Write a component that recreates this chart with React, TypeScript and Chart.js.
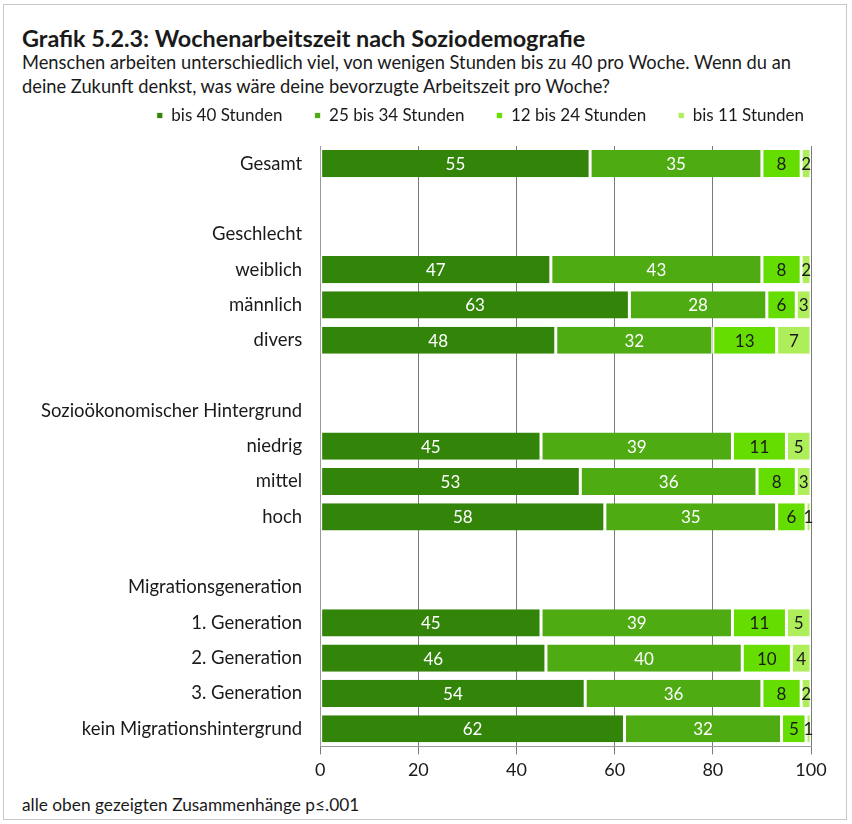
import React, { useEffect, useRef } from "react";
import { Chart, registerables } from "chart.js";

Chart.register(...registerables);

const categories = [
  "Gesamt",
  "",
  "Geschlecht",
  "weiblich",
  "männlich",
  "divers",
  "",
  "Sozioökonomischer Hintergrund",
  "niedrig",
  "mittel",
  "hoch",
  "",
  "Migrationsgeneration",
  "1. Generation",
  "2. Generation",
  "3. Generation",
  "kein Migrationshintergrund",
];

const seriesNames = ["bis 40 Stunden", "25 bis 34 Stunden", "12 bis 24 Stunden", "bis 11 Stunden"];

const bis40 = [55, null, null, 47, 63, 48, null, null, 45, 53, 58, null, null, 45, 46, 54, 62];
const h25to34 = [35, null, null, 43, 28, 32, null, null, 39, 36, 35, null, null, 39, 40, 36, 32];
const h12to24 = [8, null, null, 8, 6, 13, null, null, 11, 8, 6, null, null, 11, 10, 8, 5];
const bis11 = [2, null, null, 2, 3, 7, null, null, 5, 3, 1, null, null, 5, 4, 2, 1];

const xTicks = [0, 20, 40, 60, 80, 100];

const colors = ["#33850a", "#4eab12", "#66dd00", "#aeee5a"];
const labelColors = ["#ffffff", "#ffffff", "#1a1a1a", "#1a1a1a"];

const FONT = "Lato, 'Open Sans', sans-serif";

const valueLabels = {
  id: "valueLabels",
  afterDatasetsDraw(chart: any) {
    const ctx = chart.ctx;
    ctx.save();
    ctx.font = `17px ${FONT}`;
    ctx.textAlign = "center";
    ctx.textBaseline = "middle";
    chart.data.datasets.forEach((ds: any, i: number) => {
      const meta = chart.getDatasetMeta(i);
      meta.data.forEach((bar: any, j: number) => {
        const v = ds.data[j];
        if (v == null) return;
        const { x, base, y } = bar.getProps(["x", "base", "y"], true);
        ctx.fillStyle = labelColors[i];
        ctx.fillText(String(v), (x + base) / 2, y + 1);
      });
    });
    ctx.restore();
  },
};

const legendGap = {
  id: "legendGap",
  beforeInit(chart: any) {
    const legend = chart.legend;
    if (!legend) return;
    const origFit = legend.fit;
    legend.fit = function () {
      origFit.call(this);
      this.height += 12;
    };
  },
  afterLayout(chart: any) {
    const legend = chart.legend;
    if (!legend) return;
    legend.left += 25;
    legend.right += 25;
  },
};

export default function App() {
  const ref = useRef<HTMLCanvasElement>(null);
  useEffect(() => {
    const data = [bis40, h25to34, h12to24, bis11];
    const chart = new Chart(ref.current!, {
      type: "bar",
      data: {
        labels: categories,
        datasets: data.map((d, i) => ({
          label: seriesNames[i],
          data: d,
          backgroundColor: colors[i],
          borderColor: "#ffffff",
          borderWidth: { left: 1.5, right: 1.5, top: 0, bottom: 0 },
          borderSkipped: false,
          barPercentage: 0.77,
          categoryPercentage: 1,
        })),
      },
      options: {
        indexAxis: "y",
        animation: false,
        responsive: false,
        maintainAspectRatio: false,
        layout: { padding: { left: 31, right: 41, top: 0, bottom: 0 } },
        plugins: {
          legend: {
            position: "top",
            align: "end",
            labels: {
              usePointStyle: true,
              pointStyle: "rect",
              boxWidth: 6,
              boxHeight: 6,
              padding: 32,
              color: "#1a1a1a",
              font: { family: FONT, size: 17 },
            },
          },
          tooltip: { enabled: false },
        },
        scales: {
          x: {
            stacked: true,
            min: 0,
            max: 100,
            afterBuildTicks(scale: any) {
              scale.ticks = xTicks.map((v) => ({ value: v }));
            },
            grid: { color: "#7a7a7a", lineWidth: 1, tickLength: 8, drawOnChartArea: true },
            border: { color: "#9a9a9a" },
            ticks: { color: "#1a1a1a", font: { family: FONT, size: 18 }, padding: 5 },
          },
          y: {
            stacked: true,
            grid: { display: false },
            border: { color: "#9a9a9a" },
            ticks: { color: "#1a1a1a", font: { family: FONT, size: 18.5 }, padding: 10, autoSkip: false },
          },
        },
      },
      plugins: [legendGap, valueLabels],
    });
    return () => chart.destroy();
  }, []);

  return (
    <div
      style={{
        position: "absolute",
        left: 0,
        top: 0,
        width: 852,
        height: 824,
        background: "#fff",
        fontFamily: FONT,
        color: "#1a1a1a",
      }}
    >
      <div
        style={{
          position: "absolute",
          left: 3,
          top: 4,
          width: 844,
          height: 816,
          border: "1px solid #c8c8c8",
          boxSizing: "border-box",
        }}
      />
      <div
        style={{
          position: "absolute",
          left: 22,
          top: 25,
          fontSize: 23.4,
          lineHeight: "26px",
          fontWeight: 700,
          whiteSpace: "nowrap",
        }}
      >
        Grafik 5.2.3: Wochenarbeitszeit nach Soziodemografie
      </div>
      <div
        style={{
          position: "absolute",
          left: 22,
          top: 50,
          fontSize: 18.3,
          lineHeight: "24px",
          whiteSpace: "nowrap",
        }}
      >
        Menschen arbeiten unterschiedlich viel, von wenigen Stunden bis zu 40 pro Woche. Wenn du an
        <br />
        deine Zukunft denkst, was wäre deine bevorzugte Arbeitszeit pro Woche?
      </div>
      <div style={{ position: "absolute", left: 0, top: 75, width: 852, height: 711 }}>
        <canvas ref={ref} width={852} height={711} style={{ display: "block" }} />
      </div>
      <div
        style={{
          position: "absolute",
          left: 22,
          top: 795,
          fontSize: 17.3,
          lineHeight: "20px",
          whiteSpace: "nowrap",
        }}
      >
        alle oben gezeigten Zusammenhänge p≤.001
      </div>
    </div>
  );
}
